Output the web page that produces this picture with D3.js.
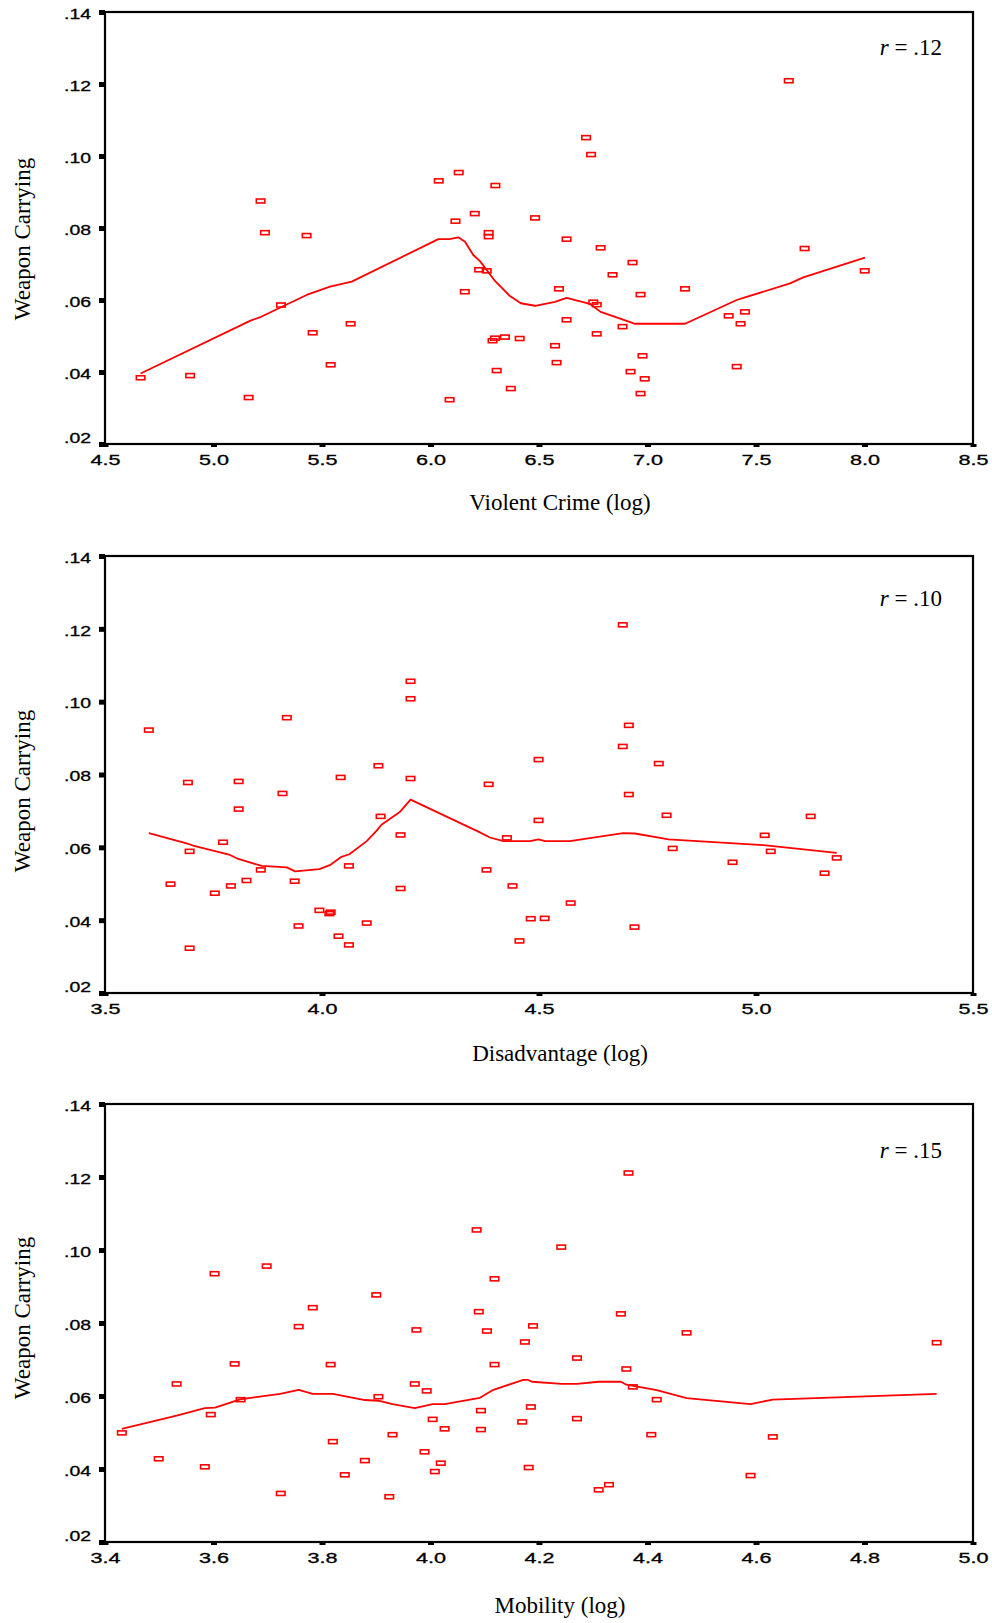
<!DOCTYPE html>
<html>
<head>
<meta charset="utf-8">
<script src="https://cdn.jsdelivr.net/npm/d3@7"></script>
<style>
  html, body { margin: 0; padding: 0; background: #fff; }
  svg { display: block; }
</style>
</head>
<body>
<div id="chart"></div>
<script>
// ── Data ──────────────────────────────────────────
const yTickValues = [0.02, 0.04, 0.06, 0.08, 0.10, 0.12, 0.14];
const yTickLabels = [".02", ".04", ".06", ".08", ".10", ".12", ".14"];

// Panel 1 — Violent Crime (log)
const crimeTicks = [4.5, 5.0, 5.5, 6.0, 6.5, 7.0, 7.5, 8.0, 8.5];
const crimePoints = [
  [4.664,.0384],[4.892,.0390],[5.162,.0329],[5.217,.0875],[5.237,.0787],
  [5.311,.0586],[5.429,.0779],[5.457,.0509],[5.540,.0420],[5.632,.0534],
  [6.038,.0931],[6.130,.0954],[6.088,.0323],[6.115,.0819],[6.204,.0840],
  [6.268,.0787],[6.268,.0776],[6.224,.0684],[6.259,.0681],[6.158,.0623],
  [6.299,.0918],[6.286,.0487],[6.297,.0494],[6.343,.0497],[6.411,.0493],
  [6.305,.0404],[6.370,.0354],[6.482,.0828],[6.627,.0769],[6.592,.0631],
  [6.627,.0545],[6.574,.0473],[6.581,.0426],[6.717,.1051],[6.740,.1004],
  [6.784,.0745],[6.750,.0594],[6.766,.0587],[6.766,.0506],[6.839,.0670],
  [6.931,.0704],[6.885,.0526],[6.968,.0615],[6.977,.0445],[6.922,.0401],
  [6.987,.0381],[6.968,.0340],[7.173,.0631],[7.374,.0556],[7.449,.0567],
  [7.429,.0534],[7.411,.0415],[7.651,.1209],[7.724,.0743],[8.001,.0681]
];
const crimeFit = [
  [4.664,.0396],[5.168,.0542],[5.222,.0554],[5.429,.0614],[5.537,.0637],
  [5.637,.0651],[6.036,.0769],[6.087,.0769],[6.128,.0774],[6.159,.0762],
  [6.197,.0725],[6.228,.0708],[6.297,.0653],[6.366,.0611],[6.416,.0591],
  [6.482,.0584],[6.574,.0595],[6.627,.0606],[6.735,.0589],[6.784,.0567],
  [6.927,.0537],[6.940,.0534],[7.173,.0534],[7.411,.0600],[7.442,.0606],
  [7.657,.0646],[7.718,.0663],[8.002,.0718]
];

// Panel 2 — Disadvantage (log)
const disTicks = [3.5, 4.0, 4.5, 5.0, 5.5];
const disPoints = [
  [3.601,.0922],[3.691,.0778],[3.695,.0589],[3.695,.0323],[3.651,.0499],
  [3.753,.0474],[3.772,.0614],[3.790,.0494],[3.808,.0781],[3.808,.0705],
  [3.826,.0509],[3.859,.0538],[3.909,.0748],[3.919,.0956],[3.937,.0507],
  [3.946,.0384],[3.994,.0427],[4.017,.0418],[4.020,.0422],[4.038,.0356],
  [4.062,.0332],[4.043,.0792],[4.062,.0549],[4.103,.0392],[4.130,.0824],
  [4.135,.0685],[4.181,.0634],[4.181,.0487],[4.204,.1056],[4.204,.1008],
  [4.204,.0789],[4.384,.0773],[4.379,.0538],[4.426,.0626],[4.439,.0494],
  [4.455,.0343],[4.481,.0404],[4.499,.0841],[4.499,.0674],[4.513,.0405],
  [4.573,.0447],[4.693,.1211],[4.707,.0935],[4.693,.0877],[4.707,.0745],
  [4.720,.0381],[4.776,.0830],[4.794,.0688],[4.808,.0597],[4.946,.0559],
  [5.020,.0633],[5.034,.0589],[5.126,.0685],[5.158,.0529],[5.186,.0571]
];
const disFit = [
  [3.601,.0639],[3.688,.0611],[3.703,.0605],[3.788,.0579],[3.807,.0568],
  [3.861,.0549],[3.919,.0545],[3.938,.0534],[3.994,.0540],[4.018,.0551],
  [4.045,.0574],[4.063,.0581],[4.103,.0617],[4.126,.0646],[4.137,.0662],
  [4.180,.0698],[4.204,.0731],[4.364,.0641],[4.387,.0627],[4.418,.0617],
  [4.479,.0617],[4.499,.0622],[4.514,.0617],[4.571,.0617],[4.694,.0639],
  [4.721,.0638],[4.779,.0626],[4.798,.0622],[5.017,.0606],[5.186,.0585]
];

// Panel 3 — Mobility (log)
const mobTicks = [3.4, 3.6, 3.8, 4.0, 4.2, 4.4, 4.6, 4.8, 5.0];
const mobPoints = [
  [3.431,.0499],[3.499,.0428],[3.532,.0633],[3.584,.0406],[3.595,.0549],
  [3.602,.0935],[3.639,.0688],[3.650,.0590],[3.698,.0956],[3.724,.0333],
  [3.757,.0790],[3.783,.0842],[3.816,.0686],[3.820,.0475],[3.842,.0384],
  [3.879,.0423],[3.900,.0877],[3.904,.0598],[3.930,.0494],[3.924,.0324],
  [3.974,.0781],[3.971,.0633],[3.993,.0614],[4.004,.0536],[4.026,.0510],
  [3.989,.0447],[4.019,.0416],[4.008,.0393],[4.085,.1055],[4.089,.0831],
  [4.104,.0778],[4.118,.0921],[4.118,.0686],[4.093,.0560],[4.093,.0508],
  [4.241,.1008],[4.189,.0792],[4.174,.0748],[4.185,.0570],[4.169,.0529],
  [4.181,.0404],[4.270,.0704],[4.270,.0538],[4.310,.0343],[4.329,.0357],
  [4.351,.0825],[4.365,.1211],[4.361,.0674],[4.373,.0625],[4.417,.0590],
  [4.407,.0494],[4.472,.0773],[4.590,.0382],[4.631,.0488],[4.933,.0746]
];
const mobFit = [
  [3.431,.0510],[3.532,.0546],[3.584,.0567],[3.603,.0568],[3.649,.0591],
  [3.723,.0606],[3.757,.0617],[3.783,.0606],[3.820,.0606],[3.879,.0589],
  [3.904,.0587],[3.930,.0578],[3.971,.0567],[4.004,.0578],[4.026,.0578],
  [4.091,.0595],[4.116,.0617],[4.171,.0644],[4.180,.0644],[4.187,.0639],
  [4.242,.0633],[4.270,.0633],[4.310,.0639],[4.351,.0639],[4.361,.0631],
  [4.417,.0616],[4.472,.0594],[4.590,.0578],[4.631,.0590],[4.933,.0606]
];

const xTitles = ["Violent Crime (log)", "Disadvantage (log)", "Mobility (log)"];
const rLabels = [".12", ".10", ".15"];
const yTitle  = "Weapon Carrying";

// ── Layout ────────────────────────────────────────
const W = 992, H = 1623;
const RED = "#ff0000";
const SANS = "'Liberation Sans', Arial, sans-serif";
const SERIF = "'Liberation Serif', 'Times New Roman', serif";

const panels = [
  { pts: crimePoints, fit: crimeFit, ticks: crimeTicks, top: 12,   bottom: 444,  yTitleY: 239,  xTitleY: 510,  rY: 55 },
  { pts: disPoints,   fit: disFit,   ticks: disTicks,   top: 556,  bottom: 993,  yTitleY: 791,  xTitleY: 1061, rY: 606 },
  { pts: mobPoints,   fit: mobFit,   ticks: mobTicks,   top: 1104, bottom: 1542, yTitleY: 1318, xTitleY: 1613, rY: 1158 }
];
const LEFT = 105, RIGHT = 973;

const svg = d3.select("#chart").append("svg")
  .attr("width", W).attr("height", H);

panels.forEach((p, i) => {
  const xScale = d3.scaleLinear()
    .domain(d3.extent(p.ticks)).range([LEFT, RIGHT]);
  const yScale = d3.scaleLinear()
    .domain([0.02, 0.14]).range([p.bottom, p.top]);

  const g = svg.append("g");

  // Loess-type fit line
  g.append("path")
    .datum(p.fit)
    .attr("fill", "none")
    .attr("stroke", RED)
    .attr("stroke-width", 1.8)
    .attr("stroke-linejoin", "round")
    .attr("d", d3.line().x(d => xScale(d[0])).y(d => yScale(d[1])));

  // Points — small open rectangles
  g.selectAll("rect.pt").data(p.pts).join("rect")
    .attr("class", "pt")
    .attr("x", d => xScale(d[0]) - 4.25)
    .attr("y", d => yScale(d[1]) - 2)
    .attr("width", 8.5).attr("height", 4)
    .attr("fill", "none")
    .attr("stroke", RED)
    .attr("stroke-width", 1.6);

  // Frame
  g.append("rect")
    .attr("x", LEFT).attr("y", p.top)
    .attr("width", RIGHT - LEFT).attr("height", p.bottom - p.top)
    .attr("fill", "none").attr("stroke", "#000").attr("stroke-width", 2.2);

  // Y axis
  const yAxis = g.append("g")
    .attr("transform", `translate(${LEFT},0)`)
    .call(d3.axisLeft(yScale).tickValues(yTickValues)
      .tickSize(6).tickPadding(8)
      .tickFormat((d, k) => yTickLabels[k]));
  yAxis.select(".domain").remove();
  yAxis.selectAll(".tick line").attr("stroke", "#000").attr("stroke-width", 5);
  yAxis.selectAll("text")
    .attr("font-family", SANS).attr("font-size", "14px").attr("fill", "#000")
    .attr("stroke", "#000").attr("stroke-width", 0.3)
    .attr("dy", (d, k) => k === 0 ? "-0.1em" : "0.45em")   // bottom label sits above its tick
    .attr("textLength", 27).attr("lengthAdjust", "spacingAndGlyphs");

  // X axis
  const xAxis = g.append("g")
    .attr("transform", `translate(0,${p.bottom})`)
    .call(d3.axisBottom(xScale).tickValues(p.ticks)
      .tickSize(3).tickPadding(8)
      .tickFormat(d3.format(".1f")));
  xAxis.select(".domain").remove();
  xAxis.selectAll(".tick line").attr("stroke", "#000").attr("stroke-width", 6);
  xAxis.selectAll("text")
    .attr("font-family", SANS).attr("font-size", "14px").attr("fill", "#000")
    .attr("stroke", "#000").attr("stroke-width", 0.3)
    .attr("textLength", 30).attr("lengthAdjust", "spacingAndGlyphs");

  // Axis titles
  svg.append("text")
    .attr("x", 560).attr("y", p.xTitleY)
    .attr("text-anchor", "middle")
    .attr("font-family", SERIF).attr("font-size", "23px").attr("fill", "#000")
    .text(xTitles[i]);

  svg.append("text")
    .attr("transform", `translate(30,${p.yTitleY}) rotate(-90)`)
    .attr("text-anchor", "middle")
    .attr("font-family", SERIF).attr("font-size", "23px").attr("fill", "#000")
    .text(yTitle);

  // Correlation note
  const rt = svg.append("text")
    .attr("x", 942).attr("y", p.rY)
    .attr("text-anchor", "end")
    .attr("font-family", SERIF).attr("font-size", "23px").attr("fill", "#000");
  rt.append("tspan").attr("font-style", "italic").text("r");
  rt.append("tspan").text(" = " + rLabels[i]);
});
</script>
</body>
</html>
